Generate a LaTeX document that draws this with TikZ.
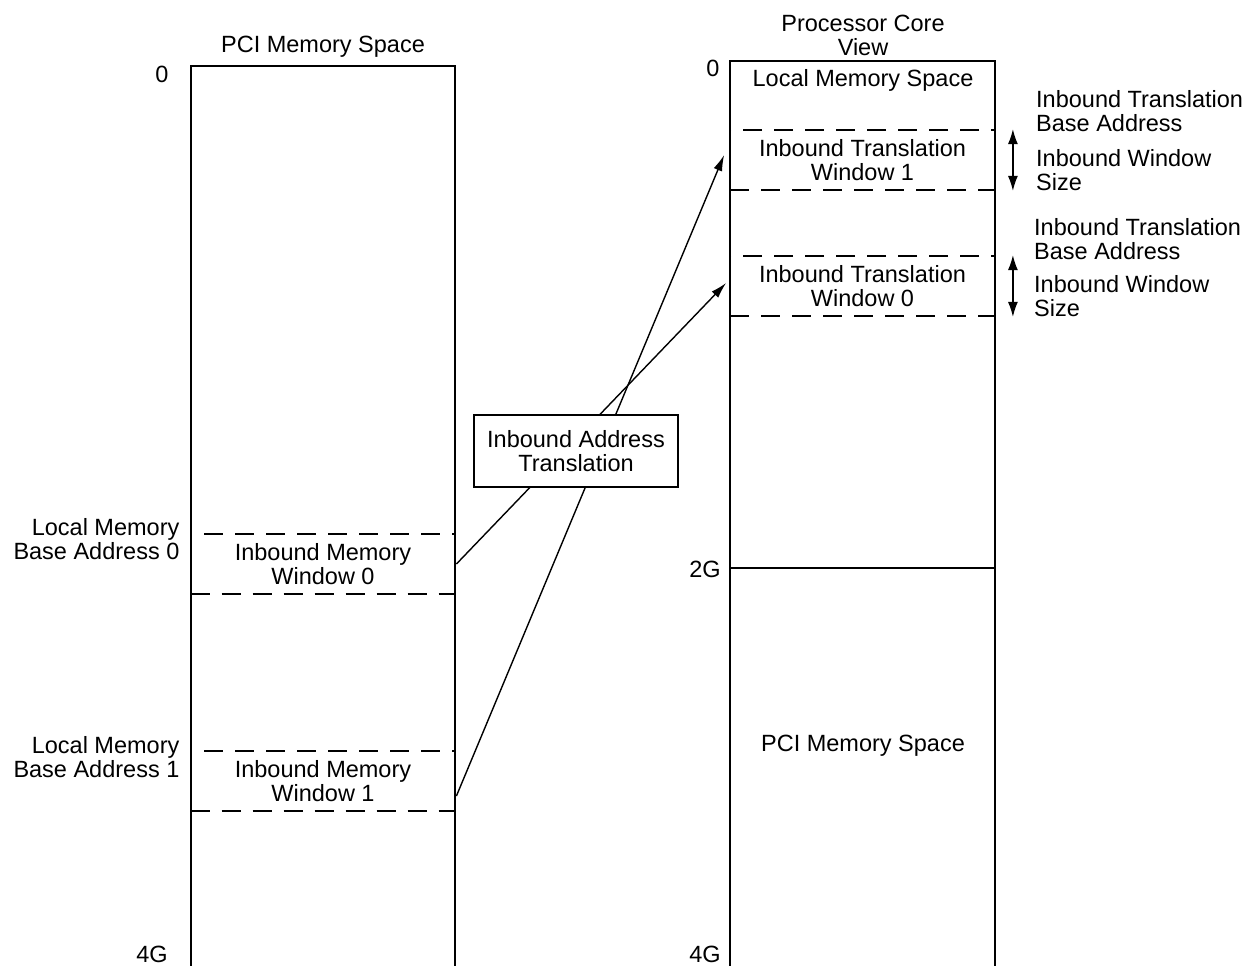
\documentclass[tikz,border=0pt]{standalone}
\usepackage{fontspec}
\setmainfont{Liberation Sans}
\usetikzlibrary{arrows.meta,positioning,calc}
\tikzset{
  lbl/.style={font=\fontsize{23.5}{24}\selectfont,align=center,inner sep=0pt},
  win/.style={lbl,draw,dash pattern=on 19pt off 12pt,line width=1.8pt,
    minimum width=265pt,minimum height=60pt},
  col/.style={line width=1.8pt},
  arr/.style={-{Latex[length=16pt,width=9pt]},line width=1.4pt},
  dbl/.style={{Latex[length=15pt,width=10pt]}-{Latex[length=15pt,width=10pt]},line width=1.4pt},
}
\begin{document}
\begin{tikzpicture}[x=1pt,y=-1pt]
  \useasboundingbox (0,0) rectangle (1247,966);

  % memory columns
  \draw[col] (191,966) |- (455,66) -- (455,966);
  \draw[col] (730,966) |- (995,61) -- (995,966);
  \draw[col] (730,568) -- (995,568);

  \node[lbl] (pcititle) at (323,47) {PCI Memory Space};
  \node[lbl] (cpututle) at (863,35) {Processor Core\\View};
  \node[lbl] (lzero) at (162,74) {0};
  \node[lbl] (lfour) at (152,954) {4G};
  \node[lbl] (rzero) at (713,68) {0};
  \node[lbl] (rtwo) at (705,569) {2G};
  \node[lbl] (rfour) at (705,954) {4G};
  \node[lbl] (lms) at (863,80) {Local Memory Space};
  \node[lbl] (pms) at (863,746) {PCI Memory Space};

  % windows
  \node[win] (lw0) at (323,564) {Inbound Memory\\Window 0};
  \node[win] (lw1) at (323,781) {Inbound Memory\\Window 1};
  \node[win] (rw1) at (862.5,160) {Inbound Translation\\Window 1};
  \node[win] (rw0) at (862.5,286) {Inbound Translation\\Window 0};

  \node[lbl,align=right,anchor=east] (lmb0) at ($(lw0.north west)+(-10,6)$) {Local Memory\\Base Address 0};
  \node[lbl,align=right,anchor=east] (lmb1) at ($(lw1.north west)+(-10,7)$) {Local Memory\\Base Address 1};

  \node[lbl,align=left,anchor=west] (itb1) at (1036,111) {Inbound Translation\\Base Address};
  \node[lbl,align=left,anchor=west] (iws1) at (1036,170) {Inbound Window\\Size};
  \node[lbl,align=left,anchor=west] (itb0) at (1034,239) {Inbound Translation\\Base Address};
  \node[lbl,align=left,anchor=west] (iws0) at (1034,296) {Inbound Window\\Size};

  \draw[dbl] ([xshift=17]rw1.north east) -- ([xshift=17]rw1.south east);
  \draw[dbl] ([xshift=17]rw0.north east) -- ([xshift=17]rw0.south east);

  % translation arrows
  \draw[arr] (lw0.east) -- ($(rw0.west)+(-3,-3)$);
  \draw[arr] ($(lw1.east)+(0,15)$) -- ($(rw1.west)+(-5,-5)$);

  \node[lbl,draw,fill=white,line width=1.8pt,minimum width=204pt,minimum height=72pt]
    (iat) at (576,451) {Inbound Address\\Translation};
\end{tikzpicture}
\end{document}
